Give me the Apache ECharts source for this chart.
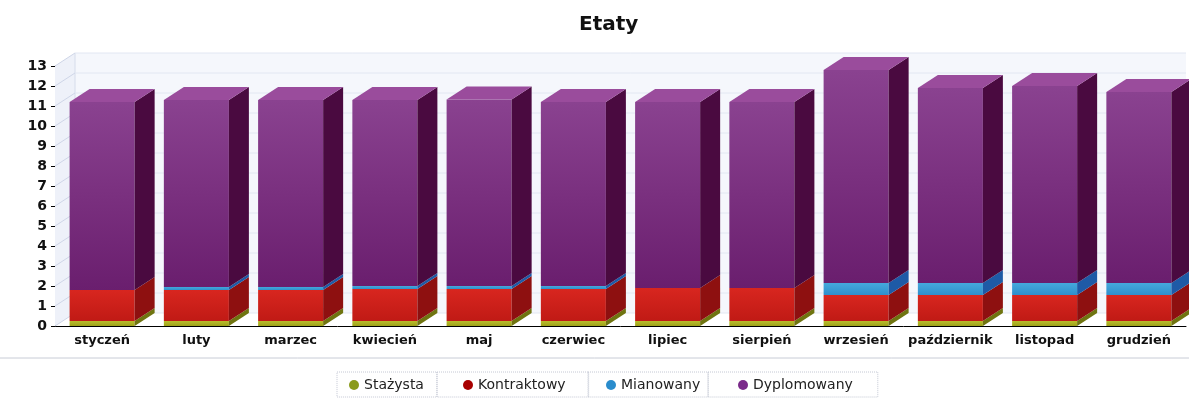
<!DOCTYPE html>
<html>
<head>
<meta charset="utf-8">
<script src="https://cdn.jsdelivr.net/npm/echarts@6/dist/echarts.min.js"></script>
<style>html,body{margin:0;padding:0;background:#fff;}#c{width:1189px;height:401px;}</style>
</head>
<body>
<div id="c"></div>
<script>
const categories = ['styczeń','luty','marzec','kwiecień','maj','czerwiec','lipiec','sierpień','wrzesień','październik','listopad','grudzień'];
const seriesNames = ['Stażysta','Kontraktowy','Mianowany','Dyplomowany'];
const stazysta    = [0.25,0.25,0.25,0.25,0.25,0.25,0.25,0.25,0.25,0.25,0.25,0.25];
const kontraktowy = [1.55,1.55,1.55,1.6,1.6,1.6,1.65,1.65,1.3,1.3,1.3,1.3];
const mianowany   = [0,0.15,0.15,0.15,0.15,0.15,0,0,0.6,0.6,0.6,0.6];
const dyplomowany = [9.4,9.35,9.35,9.3,9.33,9.2,9.3,9.3,10.65,9.75,9.85,9.55];
const yTicks = [0,1,2,3,4,5,6,7,8,9,10,11,12,13];

const DX = 20, DY = -13, FRONT = 0.69;
const FONT = 'DejaVu Sans';

const faces = [
  {front:['#b9bd2a','#9ea21a'], side:'#6f7410', top:'#c8cc50', legend:'#8a9a1a'},
  {front:['#d8261f','#c01a15'], side:'#8e1010', top:'#e05050', legend:'#a80000'},
  {front:['#45a8dc','#2f8fcc'], side:'#1e5aa6', top:'#70c0ea', legend:'#2a8ccc'},
  {front:['#8a4290','#6a1e6e'], side:'#4a0a40', top:'#9a4c9c', legend:'#7a2a8a'}
];
const valueSets = [stazysta, kontraktowy, mianowany, dyplomowany];

const bases = [];
let cum = categories.map(() => 0);
valueSets.forEach(vals => {
  bases.push(cum.slice());
  cum = cum.map((c, i) => c + vals[i]);
});

function makeRender(f, isTop) {
  return function (params, api) {
    const ci = api.value(0), b = api.value(1), t = api.value(2);
    if (t - b <= 0) return null;
    const p0 = api.coord([ci, b]), p1 = api.coord([ci, t]);
    const bw = api.size([1, 0])[0] * FRONT;
    const L = p0[0] - bw / 2, R = p0[0] + bw / 2;
    const children = [
      {type:'polygon', shape:{points:[[L,p1[1]],[R,p1[1]],[R,p0[1]],[L,p0[1]]]},
       style:{fill:new echarts.graphic.LinearGradient(0,0,0,1,[{offset:0,color:f.front[0]},{offset:1,color:f.front[1]}])}},
      {type:'polygon', shape:{points:[[R,p0[1]],[R+DX,p0[1]+DY],[R+DX,p1[1]+DY],[R,p1[1]]]},
       style:{fill:f.side}}
    ];
    if (isTop) {
      children.push({type:'polygon', shape:{points:[[L,p1[1]],[L+DX,p1[1]+DY],[R+DX,p1[1]+DY],[R,p1[1]]]},
        style:{fill:f.top}});
    }
    return {type:'group', children};
  };
}

function wallRender(params, api) {
  const v = api.value(1);
  const p = api.coord([0, v]);
  const band = api.size([1, 0])[0];
  const xl = p[0] - band / 2, xr = xl + categories.length * band;
  const y0 = api.coord([0, 0])[1], yT = api.coord([0, yTicks[yTicks.length-1]])[1];
  const children = [];
  if (params.dataIndex === 0) {
    children.push({type:'polygon', shape:{points:[[xl+DX,y0+DY],[xr,y0+DY],[xr,yT+DY],[xl+DX,yT+DY]]}, style:{fill:'#f5f7fc'}});
    children.push({type:'polygon', shape:{points:[[xl,y0],[xl+DX,y0+DY],[xl+DX,yT+DY],[xl,yT]]}, style:{fill:'#eef1f9'}});
    children.push({type:'line', shape:{x1:xl+DX,y1:y0+DY,x2:xl+DX,y2:yT+DY}, style:{stroke:'#d6dcea',lineWidth:1}});
  }
  children.push({type:'line', shape:{x1:xl,y1:p[1],x2:xl+DX,y2:p[1]+DY}, style:{stroke:'#cfd6e8',lineWidth:1}});
  children.push({type:'line', shape:{x1:xl+DX,y1:p[1]+DY,x2:xr,y2:p[1]+DY}, style:{stroke:'#e2e7f2',lineWidth:1}});
  return {type:'group', children};
}

const series = [{
  type:'custom', name:'wall', silent:true, z:1,
  renderItem: wallRender,
  data: yTicks.map(v => [0, v]),
  encode:{x:0, y:1}
}];
valueSets.forEach((vals, si) => {
  series.push({
    type:'custom', name:seriesNames[si], z:2,
    itemStyle:{color:faces[si].legend},
    renderItem: makeRender(faces[si], si === valueSets.length - 1),
    data: categories.map((c, i) => [i, bases[si][i], bases[si][i] + vals[i]]),
    encode:{x:0, y:[1,2]}
  });
});

// legend boxes (contiguous)
const legendLeft = 337;
const legendW = [100, 151, 120, 169];
const legendPadL = [12, 26, 18, 30];
const legendPadR = [13, 23, 8, 25];
let acc = legendLeft;
const legends = seriesNames.map((n, i) => {
  const left = acc;
  acc += legendW[i];
  return {
    data:[n], left:left, top:372, orient:'horizontal',
    icon:'circle', itemWidth:10, itemHeight:10,
    padding:[6, legendPadR[i], 5, legendPadL[i]],
    borderColor:'#c4c8d4', borderWidth:1, borderType:'dotted',
    textStyle:{fontFamily:FONT, fontSize:14, color:'#222'},
    selectedMode:false
  };
});

const chart = echarts.init(document.getElementById('c'), null, {renderer:'canvas'});
chart.setOption({
  animation:false,
  backgroundColor:'#ffffff',
  title:{text:'Etaty', left:574, top:10, textStyle:{fontFamily:FONT, fontSize:20, fontWeight:'bold', color:'#111'}},
  grid:{left:55, right:3, top:66, bottom:75},
  legend: legends,
  xAxis:{type:'category', data:categories, boundaryGap:true,
    axisLine:{lineStyle:{color:'#000', width:1}},
    axisTick:{alignWithLabel:true, length:4, lineStyle:{color:'#000'}},
    axisLabel:{interval:0, fontFamily:FONT, fontSize:13, fontWeight:'bold', color:'#111', margin:8},
    splitLine:{show:false}},
  yAxis:{type:'value', min:0, max:13, interval:1,
    axisLine:{show:true, lineStyle:{color:'#000', width:1}},
    axisTick:{show:true, length:4, lineStyle:{color:'#000'}},
    axisLabel:{fontFamily:FONT, fontSize:14, fontWeight:'bold', color:'#111', margin:8},
    splitLine:{show:false}},
  graphic:[{type:'line', shape:{x1:0,y1:358,x2:1189,y2:358}, style:{stroke:'#c8ccd6', lineWidth:1}, z:0}],
  series: series
});
</script>
</body>
</html>
